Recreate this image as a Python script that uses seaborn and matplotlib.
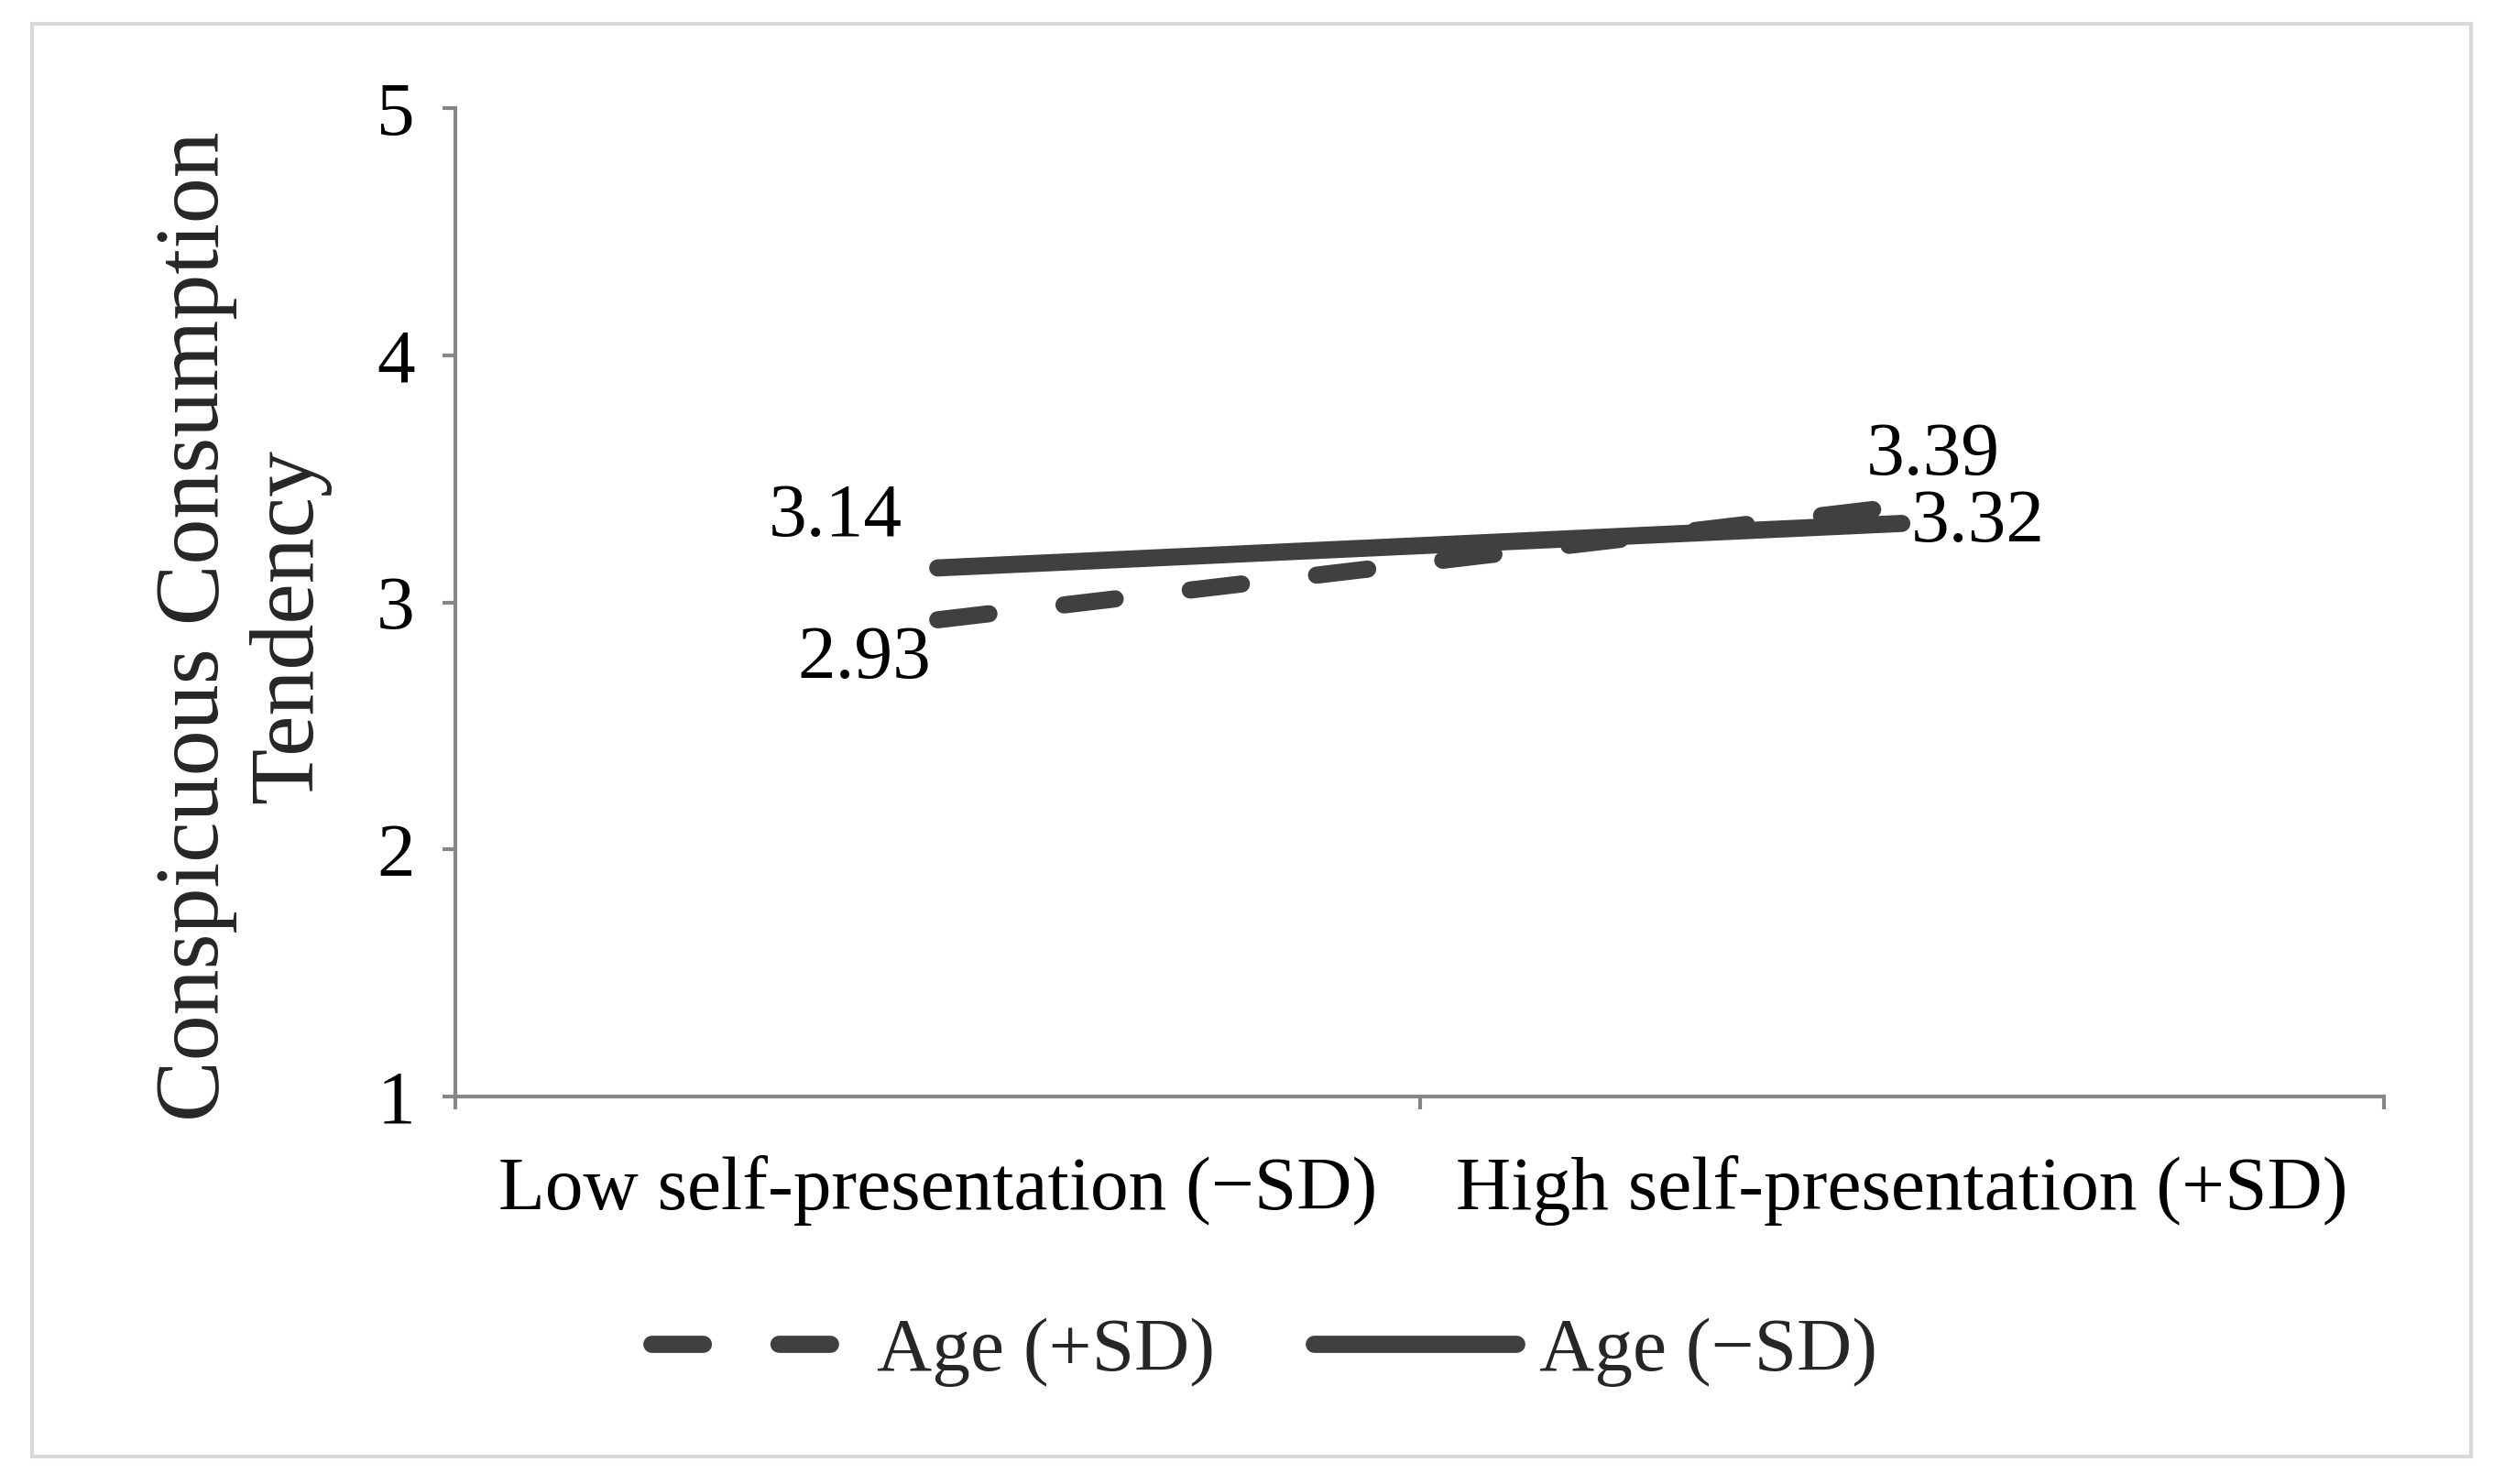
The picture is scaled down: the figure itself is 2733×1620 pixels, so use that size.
import pandas as pd
import matplotlib.pyplot as plt
import seaborn as sns
from matplotlib.patches import Rectangle
from matplotlib.lines import Line2D

# data
categories = ["Low self-presentation (\u2212SD)", "High self-presentation (+SD)"]
series_names = ["Age (+SD)", "Age (\u2212SD)"]
age_high = [2.93, 3.39]
age_low = [3.14, 3.32]

df = pd.DataFrame({
    "pos": [0, 1, 0, 1],
    "value": age_high + age_low,
    "group": [series_names[0]] * 2 + [series_names[1]] * 2,
})

sns.set_theme(style="white")
plt.rcParams["font.family"] = ["Liberation Serif", "DejaVu Serif"]

line_col = "#404040"
axis_col = "#868686"
dash = (3.0, 4.4)

fig = plt.figure(figsize=(27.33, 16.2), dpi=100)
ax = fig.add_axes([0.182, 0.261, 0.770, 0.666])

sns.lineplot(data=df, x="pos", y="value", hue="group", style="group",
             palette=[line_col, line_col], dashes={series_names[0]: dash, series_names[1]: ""},
             linewidth=13.5, ax=ax, legend=False)
for ln in ax.get_lines():
    ln.set_solid_capstyle("round")
    ln.set_dash_capstyle("round")

ax.set_xlim(-0.5, 1.5)
ax.set_ylim(1, 5)
ax.set_yticks([1, 2, 3, 4, 5])
ax.set_xticks([-0.5, 0.5, 1.5])
ax.set_xticklabels([])
ax.set_xticks([0, 1], minor=True)
ax.set_xticklabels(categories, minor=True)
ax.tick_params(axis="x", which="major", direction="out", length=10, width=3, color=axis_col, bottom=True)
ax.tick_params(axis="x", which="minor", length=0, pad=46, labelsize=60, labelcolor="black")
ax.tick_params(axis="y", direction="out", length=10, width=3, color=axis_col, left=True,
               pad=22, labelsize=60, labelcolor="black")
ax.set_xlabel("")
ax.set_ylabel("")
for side in ["top", "right"]:
    ax.spines[side].set_visible(False)
for side in ["left", "bottom"]:
    ax.spines[side].set_color(axis_col)
    ax.spines[side].set_linewidth(3)

# value labels
txt = dict(fontsize=60, color="black", textcoords="offset points")
ax.annotate("3.14", (0, age_low[0]), xytext=(-28, 12), ha="right", va="bottom", **txt)
ax.annotate("2.93", (0, age_high[0]), xytext=(-5, -4), ha="right", va="top", **txt)
ax.annotate("3.39", (1, age_high[1]), xytext=(-28, 12), ha="left", va="bottom", **txt)
ax.annotate("3.32", (1, age_low[1]), xytext=(7, 0), ha="left", va="center", **txt)

fig.text(0.097, 0.578, "Conspicuous Consumption\nTendency", rotation=90,
         ha="center", va="center", multialignment="center", fontsize=72, linespacing=1.17)

# legend
handles = [
    Line2D([], [], color=line_col, lw=13.5, linestyle=(0, dash), dash_capstyle="round"),
    Line2D([], [], color=line_col, lw=13.5, solid_capstyle="round"),
]
fig.legend(handles, series_names, loc="center", bbox_to_anchor=(0.505, 0.089), ncol=2,
           frameon=False, fontsize=60, handlelength=2.65, handletextpad=0.3, columnspacing=1.3)

fig.patches.append(Rectangle((35 / 2733, 1 - 1590 / 1620), (2697 - 35) / 2733, (1590 - 26) / 1620,
                             transform=fig.transFigure, fill=False, edgecolor="#d9d9d9", linewidth=3))

fig.savefig("out.png", dpi=100)
